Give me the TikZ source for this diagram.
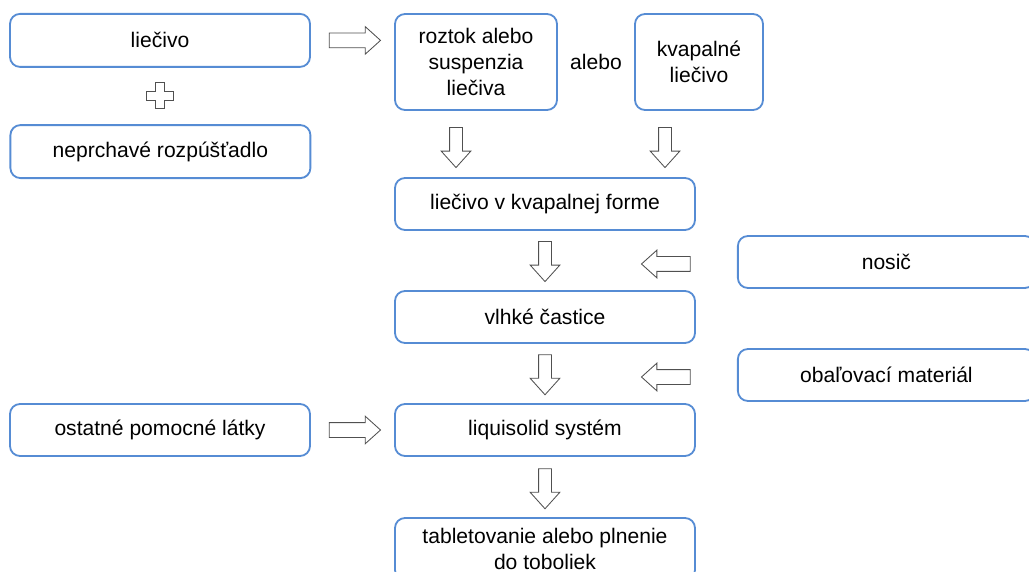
\documentclass[tikz,border=0pt]{standalone}
\usepackage{fontspec}
\setmainfont{Liberation Sans}
\usepackage{xcolor}
\usetikzlibrary{shapes.arrows, calc, positioning}
\definecolor{frame}{RGB}{86,140,212}
\definecolor{arrowline}{RGB}{80,80,80}
\tikzset{
    box/.style={rectangle, rounded corners=0.25cm, draw=frame, line width=1.3pt, fill=white, text centered, align=center, font=\fontsize{15pt}{18.5pt}\selectfont},
    label/.style={font=\fontsize{15pt}{18.5pt}\selectfont},
    hollow/.style={single arrow, draw=arrowline, line width=0.6pt, fill=white, inner xsep=0pt, single arrow tip angle=84},
    rightarrow/.style={hollow, minimum height=1.28cm, inner ysep=0.175cm, single arrow head extend=0.16cm},
    leftarrow/.style={hollow, rotate=180, minimum height=1.22cm, inner ysep=0.175cm, single arrow head extend=0.16cm},
    downarrow/.style={hollow, rotate=-90, minimum height=1.0cm, inner ysep=0.15cm, single arrow head extend=0.21cm}
}
\begin{document}
\begin{tikzpicture}
    \useasboundingbox (0,0) rectangle (25.725,-14.3);
    \clip (0,0) rectangle (25.725,-14.3);
    % Input side
    \node[box, minimum width=7.5cm, minimum height=1.325cm] (liecivo) at (4.0,-1.01) {liečivo};
    \node[box, minimum width=7.5cm, minimum height=1.325cm] (rozpustadlo) at (4.01,-3.79) {neprchavé rozpúšťadlo};
    \coordinate (plus) at ($(liecivo.south)!0.5!(rozpustadlo.north)$);
    \draw[arrowline, line width=0.6pt, fill=white, shift={(plus)}]
        (-0.11,0.33) -- (0.11,0.33) -- (0.11,0.11) -- (0.34,0.11) -- (0.34,-0.11)
        -- (0.11,-0.11) -- (0.11,-0.32) -- (-0.11,-0.32) -- (-0.11,-0.11)
        -- (-0.34,-0.11) -- (-0.34,0.11) -- (-0.11,0.11) -- cycle;
    \node[rightarrow] (a1) at (8.77,-1.01) {};

    % Liquid drug
    \node[box, minimum width=4.05cm, minimum height=2.4cm] (roztok) at (11.9,-1.55) {roztok alebo\\suspenzia\\liečiva};
    \node[label] (alebo) at (14.9,-1.55) {alebo};
    \node[box, minimum width=3.2cm, minimum height=2.4cm] (kvapalne) at (17.475,-1.55) {kvapalné\\liečivo};
    \node[downarrow] (a2) at (11.4,-3.6) {};
    \node[downarrow] (a3) at (16.625,-3.6) {};

    % Main flow
    \node[box, minimum width=7.5cm, minimum height=1.3cm] (forma) at (13.625,-5.1) {liečivo v kvapalnej forme};
    \node[downarrow] (a4) at (13.625,-6.45) {};
    \node[box, minimum width=7.5cm, minimum height=1.3cm] (castice) at (13.625,-7.925) {vlhké častice};
    \node[downarrow] (a5) at (13.625,-9.28) {};
    \node[box, minimum width=7.5cm, minimum height=1.3cm] (liquisolid) at (13.625,-10.75) {liquisolid systém};
    \node[downarrow] (a6) at (13.625,-12.13) {};
    \node[box, minimum width=7.5cm, minimum height=1.55cm] (tablet) at (13.625,-13.725) {tabletovanie alebo plnenie\\do toboliek};

    % Additives
    \node[box, minimum width=7.425cm, minimum height=1.3cm] (nosic) at (22.16,-6.55) {nosič};
    \node[leftarrow] (a7) at (16.75,-6.6) {};
    \node[box, minimum width=7.425cm, minimum height=1.3cm] (obal) at (22.16,-9.375) {obaľovací materiál};
    \node[leftarrow] (a8) at (16.75,-9.425) {};
    \node[box, minimum width=7.5cm, minimum height=1.3cm] (ostatne) at (4.0,-10.75) {ostatné pomocné látky};
    \node[rightarrow] (a9) at (8.77,-10.75) {};
\end{tikzpicture}
\end{document}
